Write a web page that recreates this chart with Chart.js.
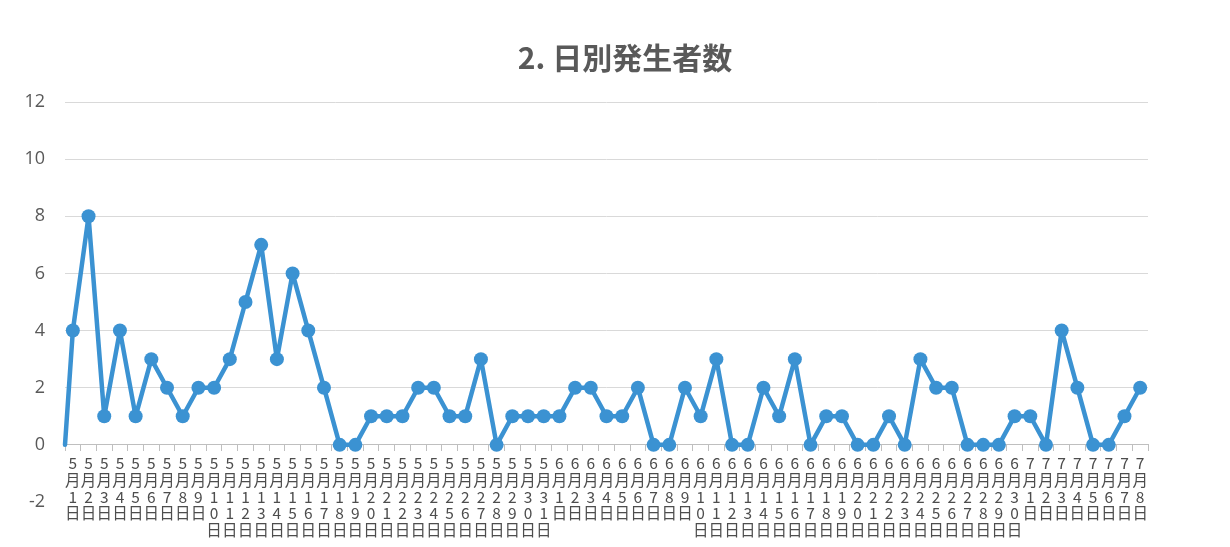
<!DOCTYPE html>
<html>
<head>
<meta charset="utf-8">
<script src="https://cdn.jsdelivr.net/npm/chart.js@4/dist/chart.umd.min.js"></script>
<style>
  html, body { margin: 0; padding: 0; background: #ffffff; }
  #wrap { width: 1230px; height: 547px; }
</style>
</head>
<body>
<div id="wrap"><canvas id="chart"></canvas></div>
<script>
// Months shown on the axis and how many days of each
const months = [5, 6, 7];
const daysInMonth = [31, 30, 8];

// Daily counts, 5/1 .. 7/8
const counts = [
  4, 8, 1, 4, 1, 3, 2, 1, 2, 2, 3, 5, 7, 3, 6, 4, 2, 0, 0, 1, 1, 1, 2, 2, 1, 1, 3, 0, 1, 1, 1,
  1, 2, 2, 1, 1, 2, 0, 0, 2, 1, 3, 0, 0, 2, 1, 3, 0, 1, 1, 0, 0, 1, 0, 3, 2, 2, 0, 0, 0, 1,
  1, 0, 4, 2, 0, 0, 1, 2
];

// the line enters from the left edge of the plot at this value
const leadValue = 0;

const yTicks = [-2, 0, 2, 4, 6, 8, 10, 12];

const labels = [];
months.forEach((m, k) => {
  for (let d = 1; d <= daysInMonth[k]; d++) labels.push(m + '月' + d + '日');
});

const blue = '#3b92d2';

// short segment from the plot edge to the first point
const leadIn = {
  id: 'leadIn',
  beforeDatasetsDraw(chart) {
    const { ctx, chartArea, scales } = chart;
    ctx.save();
    ctx.strokeStyle = blue;
    ctx.lineWidth = 4.5;
    ctx.lineCap = 'round';
    ctx.beginPath();
    ctx.moveTo(chartArea.left, scales.y.getPixelForValue(leadValue));
    ctx.lineTo(scales.x.getPixelForValue(0), scales.y.getPixelForValue(counts[0]));
    ctx.stroke();
    ctx.restore();
  }
};

new Chart(document.getElementById('chart'), {
  type: 'line',
  plugins: [leadIn],
  data: {
    labels: labels,
    datasets: [{
      data: counts,
      borderColor: blue,
      backgroundColor: blue,
      borderWidth: 4.5,
      borderJoinStyle: 'round',
      borderCapStyle: 'round',
      pointRadius: 7,
      pointBorderWidth: 0,
      pointBackgroundColor: blue,
      tension: 0,
      clip: false
    }]
  },
  options: {
    responsive: true,
    maintainAspectRatio: false,
    animation: false,
    layout: { padding: { left: 20, right: 0, top: 0, bottom: 45 } },
    plugins: {
      legend: { display: false },
      tooltip: { enabled: false },
      title: {
        display: true,
        text: '2. 日別発生者数',
        color: '#595959',
        font: { family: '"Noto Sans CJK JP"', size: 30, weight: 'bold' },
        padding: { top: 40, bottom: 26 }
      }
    },
    scales: {
      x: {
        position: { y: 0 },
        offset: true,
        grid: {
          display: true,
          offset: true,
          drawOnChartArea: false,
          drawTicks: true,
          tickLength: 6,
          color: '#bfbfbf'
        },
        border: { display: true, color: '#bfbfbf', width: 1 },
        ticks: {
          autoSkip: false,
          maxRotation: 0,
          minRotation: 0,
          padding: 4,
          color: '#4d4d4d',
          font: { family: '"Noto Sans CJK JP"', size: 15.5, lineHeight: 1.08 },
          callback: (v, i) => labels[i].split('')
        }
      },
      y: {
        min: -2,
        max: 12,
        afterBuildTicks: (scale) => { scale.ticks = yTicks.map(v => ({ value: v })); },
        afterFit: (scale) => { scale.width = 45; },
        grid: {
          drawTicks: false,
          color: (c) => c.tick && c.tick.value === -2 ? 'rgba(0,0,0,0)' : '#d9d9d9'
        },
        border: { display: false },
        ticks: {
          padding: 20,
          color: '#595959',
          font: { family: '"Open Sans"', size: 18 }
        }
      },
      // empty right-hand axis that only holds the blank margin
      yRight: {
        position: 'right',
        min: -2,
        max: 12,
        afterFit: (scale) => { scale.width = 82; },
        grid: { display: false, drawTicks: false },
        border: { display: false },
        ticks: { display: false }
      }
    }
  }
});
</script>
</body>
</html>
